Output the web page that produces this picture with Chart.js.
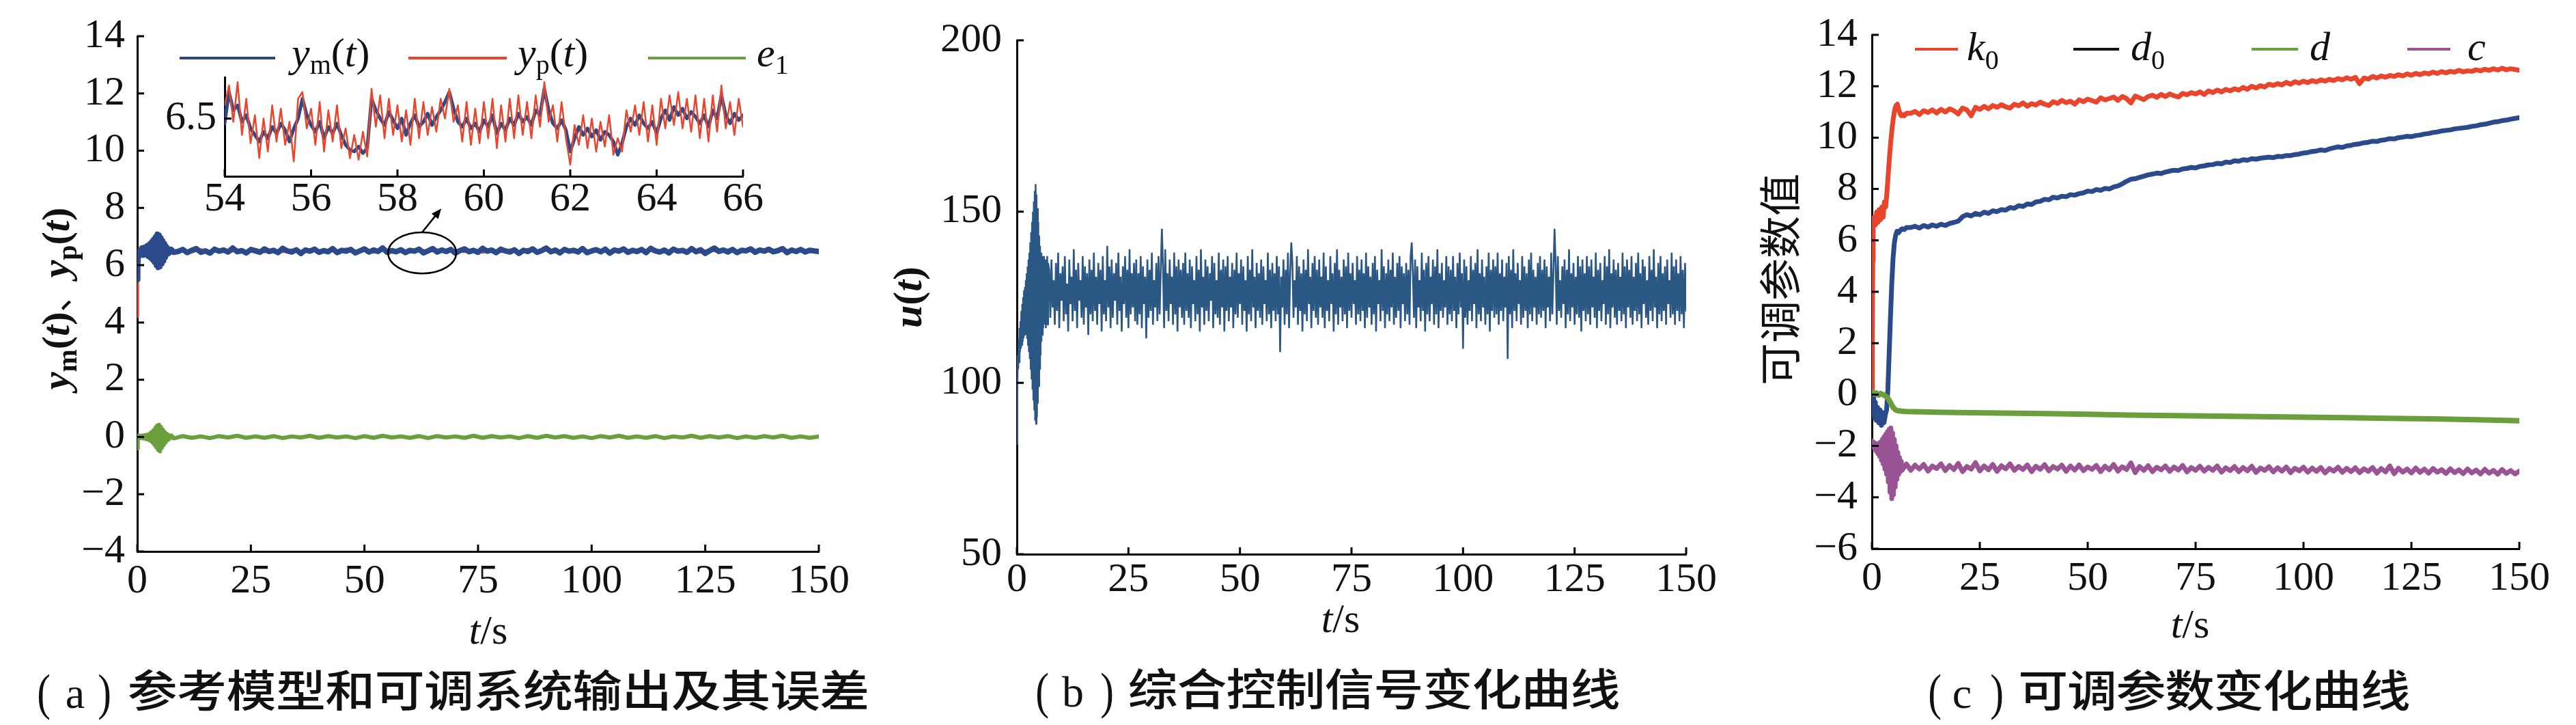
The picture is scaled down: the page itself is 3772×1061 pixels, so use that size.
<!DOCTYPE html>
<html><head><meta charset="utf-8">
<script src="https://cdn.jsdelivr.net/npm/chart.js@4.4.1/dist/chart.umd.min.js"></script>
<style>
html,body{margin:0;padding:0;background:#fff;}
#wrap{position:relative;width:3772px;height:1061px;overflow:hidden;background:#fff;}
canvas{position:absolute;}
</style></head><body>
<div id="wrap">
<canvas id="ca"></canvas><canvas id="cb"></canvas><canvas id="cc"></canvas><canvas id="cin"></canvas>
</div>
<script>
// ===================== DATA =====================
// tick labels
const tTicks = [0, 25, 50, 75, 100, 125, 150];
const aYTicks = [-4, -2, 0, 2, 4, 6, 8, 10, 12, 14];
const bYTicks = [50, 100, 150, 200];
const cYTicks = [-6, -4, -2, 0, 2, 4, 6, 8, 10, 12, 14];
const insetXTicks = [54, 56, 58, 60, 62, 64, 66];
const insetYTicks = [6.5];

// ---- (a) reference model / adjustable system outputs and error ----
const aTrT = [0,0.1,0.2,0.3,0.5,0.7,1.0,1.3,1.6,1.9,2.2,2.5,2.8,3.0,3.2,3.4,3.6,3.8,4.0,4.2,4.4,4.6,4.8,5.0,5.2,5.4,5.6,5.8,6.0,6.2,6.4,6.6,6.8,7.0,7.5,8.0];
const ymTr = [5.5,6.0,6.3,6.42,6.5,6.38,6.6,6.35,6.62,6.36,6.68,6.3,6.75,6.25,6.82,6.18,6.9,6.1,6.98,6.0,7.08,5.92,7.05,5.95,6.95,6.05,6.85,6.15,6.75,6.28,6.65,6.38,6.58,6.42,6.55,6.45];
const ypTr = [4.2,5.6,6.2,6.45,6.55,6.35,6.62,6.33,6.64,6.34,6.7,6.28,6.77,6.23,6.84,6.16,6.92,6.08,7.0,5.98,7.1,5.9,7.06,5.93,6.96,6.03,6.86,6.13,6.76,6.26,6.66,6.36,6.6,6.4,6.56,6.44];
const e1Tr = [-0.4,-0.15,0.05,-0.05,0.03,-0.04,0.05,-0.05,0.06,-0.07,0.08,-0.1,0.12,-0.14,0.17,-0.2,0.24,-0.28,0.32,-0.36,0.4,-0.45,0.42,-0.5,0.35,-0.38,0.26,-0.28,0.18,-0.2,0.12,-0.12,0.08,-0.08,0.05,-0.05];
// steady part of y_m, t = 9..150 s, every 1 s
const ymSt = [6.48,6.55,6.44,6.52,6.58,6.45,6.5,6.42,6.56,6.49,
6.53,6.46,6.6,6.47,6.51,6.43,6.55,6.5,6.45,6.57,
6.48,6.52,6.44,6.59,6.5,6.46,6.54,6.41,6.53,6.49,
6.56,6.45,6.51,6.47,6.58,6.44,6.52,6.49,6.55,6.43,
6.5,6.57,6.46,6.53,6.48,6.6,6.45,6.51,6.47,6.54,
6.44,6.52,6.49,6.56,6.43,6.5,6.58,6.46,6.53,6.48,
6.55,6.42,6.51,6.57,6.47,6.52,6.45,6.59,6.49,6.53,
6.44,6.56,6.5,6.46,6.54,6.41,6.52,6.48,6.57,6.45,
6.51,6.6,6.47,6.53,6.43,6.55,6.49,6.52,6.46,6.58,
6.44,6.5,6.54,6.47,6.56,6.42,6.53,6.49,6.57,6.45,
6.52,6.48,6.55,6.44,6.59,6.5,6.46,6.53,6.43,6.56,
6.49,6.52,6.45,6.58,6.47,6.54,6.41,6.51,6.6,6.48,
6.53,6.46,6.55,6.44,6.52,6.5,6.57,6.45,6.53,6.49,
6.56,6.47,6.51,6.58,6.44,6.53,6.48,6.55,6.46,6.52,
6.5,6.48];
// steady part of y_p, t = 10..150 s, every 2 s
const ypSt = [6.53,6.46,6.55,6.47,6.52,6.45,6.54,6.48,6.56,6.46,
6.52,6.47,6.54,6.45,6.55,6.48,6.53,6.46,6.57,6.47,
6.53,6.45,6.54,6.47,6.52,6.46,6.55,6.48,6.54,6.46,
6.52,6.47,6.55,6.45,6.53,6.47,6.54,6.46,6.56,6.48,
6.52,6.46,6.55,6.47,6.54,6.45,6.53,6.47,6.55,6.46,
6.52,6.48,6.54,6.46,6.56,6.47,6.53,6.45,6.54,6.47,
6.54,6.46,6.55,6.47,6.52,6.46,6.55,6.48,6.53,6.46,
6.52];
// steady part of e1, t = 10..150 s, every 2 s
const e1St = [0.03,-0.03,0.02,-0.04,0.03,-0.02,0.04,-0.03,0.02,-0.03,
0.03,-0.04,0.02,-0.02,0.04,-0.03,0.03,-0.02,0.02,-0.04,
0.03,-0.03,0.04,-0.02,0.02,-0.03,0.03,-0.04,0.03,-0.02,
0.02,-0.03,0.04,-0.03,0.03,-0.02,0.02,-0.04,0.03,-0.03,
0.04,-0.02,0.03,-0.03,0.02,-0.04,0.03,-0.02,0.04,-0.03,
0.02,-0.03,0.03,-0.04,0.02,-0.02,0.04,-0.03,0.03,-0.02,
0.03,-0.04,0.02,-0.03,0.03,-0.02,0.04,-0.03,0.02,-0.03,
0.02];
// inset 54..66 s, every 0.1 s
const ymIn = [6.47,6.66,6.55,6.58,6.48,6.52,6.44,6.40,6.36,6.42,
6.38,6.45,6.41,6.47,6.43,6.36,6.44,6.50,6.62,6.52,
6.46,6.42,6.48,6.38,6.45,6.41,6.47,6.40,6.34,6.31,
6.30,6.33,6.29,6.32,6.62,6.55,6.50,6.46,6.54,6.49,
6.44,6.50,6.40,6.47,6.52,6.45,6.48,6.53,6.46,6.51,
6.55,6.60,6.66,6.56,6.48,6.45,6.50,6.44,6.47,6.42,
6.49,6.45,6.52,6.41,6.47,6.43,6.50,6.46,6.53,6.48,
6.51,6.46,6.55,6.52,6.68,6.55,6.47,6.44,6.49,6.43,
6.30,6.38,6.45,6.40,6.44,6.39,6.43,6.37,6.42,6.40,
6.36,6.28,6.35,6.45,6.50,6.46,6.52,6.47,6.44,6.48,
6.41,6.50,6.55,6.49,6.57,6.52,6.56,6.50,6.54,6.51,
6.47,6.52,6.45,6.55,6.50,6.64,6.52,6.47,6.53,6.49,
6.52];
const ypIn = [6.58,6.70,6.48,6.72,6.40,6.62,6.35,6.52,6.26,6.50,
6.30,6.58,6.36,6.56,6.34,6.48,6.24,6.62,6.66,6.44,
6.56,6.34,6.60,6.30,6.55,6.36,6.58,6.32,6.44,6.26,
6.40,6.25,6.42,6.27,6.68,6.45,6.64,6.38,6.62,6.40,
6.58,6.36,6.55,6.34,6.62,6.38,6.60,6.40,6.57,6.42,
6.62,6.50,6.68,6.48,6.58,6.36,6.60,6.34,6.56,6.35,
6.60,6.38,6.62,6.32,6.58,6.36,6.62,6.38,6.64,6.40,
6.60,6.38,6.64,6.45,6.72,6.48,6.58,6.36,6.60,6.38,
6.22,6.46,6.34,6.52,6.32,6.50,6.30,6.48,6.33,6.52,
6.28,6.38,6.30,6.55,6.42,6.58,6.40,6.60,6.36,6.58,
6.34,6.62,6.44,6.64,6.46,6.66,6.44,6.62,6.42,6.64,
6.38,6.62,6.36,6.64,6.42,6.70,6.44,6.60,6.40,6.62,
6.45];

// ---- (b) control signal u(t) ----
// t = 0..7 s every 0.1 s
const uTr = [82,98,108,104,113,106,116,109,118,110,
121,111,123,112,125,113,127,114,128,115,
130,114,132,113,134,111,136,109,138,107,
141,104,144,101,147,98,150,95,153,92,
156,89,158,88,155,90,151,94,147,99,
143,104,140,108,138,112,137,114,136,116,
137,117,135,118,136,116,134,119,137,117,
135];
// t = 7.25..150 s every 0.25 s
const uSt = [
133,119,136,122,130,117,135,121,138,116, 132,124,134,118,137,120,129,115,136,123, 131,118,139,121,133,116,135,124,130,119, 137,117,134,122,132,114,136,120,133,118,
138,121,131,117,135,123,133,115,137,120, 130,118,140,122,134,116,136,119,132,124, 135,117,138,121,131,115,134,123,137,119, 133,116,139,120,132,122,135,118,136,117,
132,120,137,116,134,123,131,113,136,119, 133,121,138,117,130,122,135,118,137,120, 133,145,134,116,139,121,132,118,136,123, 131,117,138,120,134,115,136,122,133,119,
135,117,138,121,132,119,136,116,134,123, 130,118,137,120,133,115,139,122,131,117, 136,121,134,118,132,124,137,116,135,120, 130,119,138,117,133,122,136,115,134,121,
137,118,131,122,135,116,133,120,138,119, 132,123,136,117,134,121,130,115,137,120, 133,118,139,122,131,116,135,121,132,119, 136,117,134,123,130,118,138,120,133,116,
135,121,132,118,137,120,134,109,131,122, 136,117,133,120,138,116,132,141,135,119, 130,122,137,117,134,121,132,115,136,120, 133,118,139,123,131,116,135,121,137,119,
133,117,136,122,131,119,138,116,134,121, 130,118,137,123,132,115,135,120,139,117, 133,122,131,118,136,120,134,116,138,121, 132,119,135,123,130,117,137,120,133,118,
136,121,132,116,138,119,134,122,131,117, 135,120,137,115,133,123,130,118,139,121, 134,116,132,120,136,118,133,122,138,117, 131,119,135,121,137,116,134,123,132,118,
135,120,133,117,137,141,132,119,136,116, 134,122,130,118,138,121,133,115,135,120, 137,118,131,123,136,117,134,120,139,116, 132,121,135,119,130,122,137,117,134,120,
133,118,137,121,131,116,135,120,138,122, 132,110,136,119,134,117,130,121,137,118, 133,123,135,116,139,120,132,118,136,122, 131,117,134,120,138,115,133,121,136,119,
134,120,138,117,132,121,136,118,131,122, 135,107,137,120,133,116,139,121,132,118, 135,123,130,117,137,119,134,121,132,116, 136,120,138,118,133,122,131,117,135,120,
137,119,133,121,136,116,134,122,131,118, 138,120,132,145,135,117,137,121,130,119, 134,123,136,116,133,120,139,118,132,122, 135,117,131,120,137,119,134,115,136,121,
132,118,137,120,134,117,136,122,131,119, 138,116,133,121,135,118,130,123,137,117, 134,120,139,116,132,122,136,119,133,117, 135,121,131,118,138,120,134,116,136,122,
133,119,137,117,131,121,135,118,138,120, 132,116,136,123,134,119,130,117,137,121, 133,118,139,122,131,116,135,120,137,118, 132,121,134,117,136,123,130,119,138,120,
134,117,136,121,132,118,137,120,133,116,135,121];

// ---- (c) adjustable parameters ----
const kT = [0,0.1,0.2,0.3,0.5,0.8,1.1,1.4,1.7,2.0,2.3,2.6,2.9,3.2,3.5,3.8,4.1,4.4,4.7,5.0,5.3,5.6,5.9,6.2,6.5,6.8,7.1,7.5,8];
const k0Tr = [0.1,2.4,5.2,6.5,6.9,6.6,7.1,6.7,7.2,6.8,7.3,6.9,7.5,7.3,7.9,8.6,9.3,9.9,10.4,10.8,11.1,11.25,11.3,11.1,10.95,10.85,10.9,10.85,10.95];
// t = 9..150 s every 1 s
const k0St = [10.95,11.02,10.9,11.05,10.98,11.08,10.96,11.1,11.0,11.12,
11.05,10.92,11.15,11.08,10.85,11.18,11.1,11.22,11.12,11.25,
11.18,11.28,11.2,11.15,11.3,11.24,11.35,11.22,11.32,11.27,
11.38,11.3,11.25,11.4,11.33,11.45,11.36,11.42,11.3,11.47,
11.4,11.5,11.44,11.38,11.55,11.47,11.52,11.58,11.45,11.6,
11.52,11.35,11.62,11.55,11.48,11.6,11.65,11.57,11.68,11.6,
11.7,11.63,11.58,11.72,11.67,11.75,11.7,11.78,11.68,11.82,
11.75,11.85,11.78,11.88,11.82,11.9,11.85,11.95,11.88,12.0,
11.93,12.02,11.97,12.08,12.03,12.1,12.05,12.15,12.08,12.18,
12.12,12.2,12.14,12.22,12.17,12.25,12.2,12.27,12.22,12.3,
12.25,12.33,12.27,12.35,12.1,12.32,12.28,12.38,12.32,12.4,
12.35,12.42,12.38,12.45,12.4,12.48,12.43,12.5,12.45,12.52,
12.48,12.55,12.5,12.57,12.52,12.58,12.55,12.62,12.56,12.6,
12.58,12.64,12.6,12.66,12.62,12.68,12.63,12.7,12.64,12.68,
12.65,12.62];
const dT = [0,0.2,0.4,0.6,0.8,1.0,1.3,1.6,1.9,2.2,2.5,2.8,3.1,3.4,3.7,4.0,4.3,4.6,4.9,5.2,5.5,5.8,6.2,6.6,7.0,7.5,8];
const d0Tr = [0,-0.7,-0.1,-0.9,-0.3,-1.0,-0.5,-1.1,-0.6,-1.2,-0.7,-1.1,-0.8,-0.6,0.2,1.6,3.0,4.3,5.3,5.9,6.2,6.35,6.3,6.4,6.45,6.42,6.5];
// t = 9..150 s every 1 s
const d0St = [6.5,6.55,6.48,6.58,6.52,6.6,6.55,6.63,6.58,6.66,
6.7,6.75,6.92,7.0,6.95,7.05,7.0,7.1,7.05,7.15,
7.12,7.2,7.18,7.28,7.25,7.35,7.32,7.42,7.4,7.5,
7.52,7.6,7.58,7.68,7.65,7.72,7.7,7.78,7.76,7.82,
7.85,7.92,7.9,7.98,7.95,8.02,8.0,8.08,8.12,8.2,
8.3,8.38,8.4,8.45,8.5,8.55,8.58,8.62,8.6,8.66,
8.7,8.73,8.72,8.78,8.8,8.84,8.82,8.88,8.9,8.94,
8.95,9.0,8.98,9.05,9.03,9.1,9.08,9.14,9.12,9.18,
9.16,9.2,9.22,9.24,9.22,9.27,9.26,9.3,9.3,9.34,
9.36,9.4,9.42,9.46,9.48,9.52,9.5,9.56,9.6,9.64,
9.62,9.68,9.7,9.74,9.76,9.8,9.82,9.86,9.85,9.9,
9.92,9.96,9.95,10.0,10.02,10.05,10.04,10.08,10.1,10.14,
10.16,10.2,10.22,10.26,10.28,10.3,10.34,10.36,10.38,10.4,
10.44,10.46,10.5,10.52,10.56,10.6,10.62,10.66,10.68,10.72,
10.75,10.78];
const gT = [0,0.5,1,1.5,2,2.5,3,3.5,4,4.5,5,5.5,6,7,8,10,15,20,30,40,50,60,70,80,90,100,110,120,130,140,150];
const gV = [0.12,0.02,0.06,-0.02,0.04,0.0,-0.04,-0.1,-0.22,-0.38,-0.52,-0.6,-0.63,-0.65,-0.66,-0.67,-0.69,-0.7,-0.72,-0.74,-0.77,-0.8,-0.82,-0.84,-0.86,-0.88,-0.9,-0.93,-0.95,-0.98,-1.02];
// t = 0..7 s every 0.2 s
const cTr = [-1.8,-1.95,-1.85,-2.1,-1.9,-2.2,-1.95,-2.3,-1.9,-2.4,-1.85,-2.55,-1.75,-2.7,-1.65,-2.9,-1.55,-3.1,-1.45,-3.4,-1.35,-3.8,-1.3,-4.05,-1.5,-3.9,-1.75,-3.6,-2.0,-3.3,-2.25,-3.1,-2.45,-3.0,-2.6,-2.95];
// t = 8..150 s every 1 s
const cSt = [-2.7,-2.95,-2.75,-2.9,-2.72,-2.98,-2.78,-2.88,-2.7,-2.96,
-2.76,-2.92,-2.68,-3.0,-2.8,-2.9,-2.65,-2.97,-2.78,-2.93,
-2.72,-2.99,-2.77,-2.89,-2.7,-2.95,-2.8,-2.92,-2.74,-3.0,
-2.79,-2.91,-2.73,-2.97,-2.8,-2.9,-2.75,-2.99,-2.78,-2.94,
-2.74,-2.96,-2.82,-2.91,-2.76,-3.0,-2.79,-2.93,-2.72,-2.98,
-2.81,-2.92,-2.66,-3.04,-2.8,-2.95,-2.77,-3.0,-2.83,-2.93,
-2.78,-2.99,-2.82,-2.94,-2.76,-3.01,-2.84,-2.95,-2.79,-2.98,
-2.83,-2.95,-2.78,-3.02,-2.85,-2.96,-2.8,-3.0,-2.84,-2.97,
-2.79,-3.03,-2.86,-2.95,-2.81,-3.01,-2.85,-2.98,-2.82,-3.04,
-2.87,-2.97,-2.83,-3.02,-2.86,-2.99,-2.84,-3.05,-2.88,-2.98,
-2.83,-3.03,-2.87,-3.0,-2.85,-3.04,-2.89,-2.99,-2.84,-3.06,
-2.88,-3.01,-2.78,-3.08,-2.87,-3.02,-2.9,-3.05,-2.86,-3.03,
-2.9,-3.06,-2.88,-3.02,-2.92,-3.07,-2.89,-3.04,-2.93,-3.08,
-2.9,-3.05,-2.94,-3.09,-2.91,-3.06,-2.95,-3.1,-2.92,-3.07,
-2.96,-3.09,-2.98];

// annotation (zoom mark) in data units of panel (a)
const markCenter = [62.7, 6.43], markRadius = [7.5, 0.72];
const arrowFrom = [62.7, 7.15], arrowTo = [66.9, 7.98];

// ===================== HELPERS =====================
const pts = (ts, vs) => ts.map((t, i) => ({x: t, y: vs[i]}));
const grid = (t0, dt, vs) => vs.map((v, i) => ({x: Math.round((t0 + i * dt) * 1000) / 1000, y: v}));

const BLUE = '#2b4a8b', RED = '#e8452c', GREEN = '#6b9e3c', PURPLE = '#9a5394', STEEL = '#2a5784';
const SERIF = '"Liberation Serif","Times New Roman",serif';
const CJK = '"Noto Sans CJK SC",sans-serif';
const TICKFONT = {family: SERIF, size: 60, lineHeight: 1};
const fmt = v => (v < 0 ? '\u2212' + (-v) : String(v));

function rich(ctx, segs, x, y, align, rot) {
  ctx.save();
  ctx.translate(x, y);
  if (rot) ctx.rotate(rot);
  ctx.textBaseline = 'alphabetic';
  ctx.textAlign = 'left';
  let w = 0;
  for (const s of segs) { ctx.font = s.f; w += ctx.measureText(s.t).width; }
  let cx = align === 'center' ? -w / 2 : (align === 'right' ? -w : 0);
  for (const s of segs) {
    ctx.font = s.f; ctx.fillStyle = '#111';
    ctx.fillText(s.t, cx, s.dy || 0);
    cx += ctx.measureText(s.t).width;
  }
  ctx.restore();
}
function caption(ctx, letter, parL, letX, parR, chars, x0, adv, base) {
  ctx.save();
  ctx.fillStyle = '#111';
  ctx.textBaseline = 'alphabetic';
  ctx.textAlign = 'center';
  ctx.font = '74px ' + SERIF;
  ctx.save(); ctx.translate(parL, base + 2); ctx.scale(0.8, 1); ctx.fillText('(', 0, 0); ctx.restore();
  ctx.save(); ctx.translate(parR, base + 2); ctx.scale(0.8, 1); ctx.fillText(')', 0, 0); ctx.restore();
  ctx.font = '64px ' + SERIF;
  ctx.fillText(letter, letX, base);
  ctx.font = '500 64px ' + CJK;
  [...chars].forEach((ch, i) => {
    ctx.save(); ctx.translate(x0 + adv / 2 + i * adv, base - 2); ctx.scale(1.14, 1);
    ctx.fillText(ch, 0, 0); ctx.restore();
  });
  ctx.restore();
}
function innerTicks(c, len) {
  const ctx = c.ctx, xs = c.scales.x, ys = c.scales.y, a = c.chartArea;
  ctx.save(); ctx.strokeStyle = '#000'; ctx.lineWidth = 3; ctx.beginPath();
  xs.ticks.forEach(t => { const p = xs.getPixelForValue(t.value); ctx.moveTo(p, a.bottom); ctx.lineTo(p, a.bottom - len); });
  ys.ticks.forEach(t => { const p = ys.getPixelForValue(t.value); ctx.moveTo(a.left, p); ctx.lineTo(a.left + len, p); });
  ctx.stroke(); ctx.restore();
}
function legendLine(ctx, x1, x2, y, color) {
  ctx.save(); ctx.strokeStyle = color; ctx.lineWidth = 4; ctx.beginPath();
  ctx.moveTo(x1, y); ctx.lineTo(x2, y); ctx.stroke(); ctx.restore();
}

function makeChart(id, box, area, xCfg, yCfg, datasets, extra) {
  const cv = document.getElementById(id);
  cv.width = box.w; cv.height = box.h;
  Object.assign(cv.style, {left: box.x + 'px', top: box.y + 'px', width: box.w + 'px', height: box.h + 'px'});
  const yW = area.L - box.x, xH = box.y + box.h - area.B;
  const axis = (cfg, isX) => ({
    type: 'linear', min: cfg.min, max: cfg.max,
    grid: {display: false, drawTicks: false},
    border: {display: true, color: '#000', width: 3},
    ticks: {autoSkip: false, maxRotation: 0, minRotation: 0, padding: cfg.pad, font: TICKFONT, color: '#111', callback: fmt},
    afterBuildTicks: s => { s.ticks = cfg.ticks.map(v => ({value: v})); },
    afterFit: s => { if (isX) s.height = xH; else s.width = yW; }
  });
  return new Chart(cv.getContext('2d'), {
    type: 'line',
    data: {datasets},
    options: {
      responsive: false, animation: false, events: [],
      layout: {padding: {top: area.T - box.y, right: box.x + box.w - area.R, left: 0, bottom: 0}},
      plugins: {legend: {display: false}, tooltip: {enabled: false}, title: {display: false}},
      elements: {point: {radius: 0}, line: {tension: 0}},
      scales: {x: axis(xCfg, true), y: axis(yCfg, false)}
    },
    plugins: [{id: 'deco', afterDraw: c => {
      innerTicks(c, 10);
      const ctx = c.ctx; ctx.save(); ctx.translate(-box.x, -box.y);
      extra(c, ctx); ctx.restore();
    }}]
  });
}
const ds = (data, color, w, order, join) => ({data, borderColor: color, borderWidth: w, order, fill: false, pointRadius: 0, borderJoinStyle: join || 'round', borderCapStyle: 'round'});

const IT = '60px ' + SERIF, ITI = 'italic 60px ' + SERIF, SUB = '40px ' + SERIF;

// ===================== PANEL (a) =====================
makeChart('ca', {x: 0, y: 0, w: 1290, h: 1061}, {L: 201, R: 1199, T: 53, B: 807},
  {min: 0, max: 150, ticks: tTicks, pad: 14}, {min: -4, max: 14, ticks: aYTicks, pad: 18},
  [
    ds(pts(aTrT, ymTr).concat(grid(9, 1, ymSt)), BLUE, 8, 1),
    ds(pts(aTrT, ypTr).concat(grid(10, 2, ypSt)), RED, 4, 2),
    ds(pts(aTrT, e1Tr).concat(grid(10, 2, e1St)), GREEN, 6, 0)
  ],
  (c, ctx) => {
    // zoom mark ellipse + arrow
    const xs = c.scales.x, ys = c.scales.y;
    const cx = xs.getPixelForValue(markCenter[0]), cy = ys.getPixelForValue(markCenter[1]);
    const rx = xs.getPixelForValue(markCenter[0] + markRadius[0]) - cx;
    const ry = cy - ys.getPixelForValue(markCenter[1] + markRadius[1]);
    ctx.save(); ctx.strokeStyle = '#000'; ctx.lineWidth = 2.5;
    ctx.beginPath(); ctx.ellipse(cx, cy, rx, ry, 0, 0, Math.PI * 2); ctx.stroke();
    const x1 = xs.getPixelForValue(arrowFrom[0]), y1 = ys.getPixelForValue(arrowFrom[1]);
    const x2 = xs.getPixelForValue(arrowTo[0]), y2 = ys.getPixelForValue(arrowTo[1]);
    const ang = Math.atan2(y2 - y1, x2 - x1), hl = 16;
    ctx.beginPath(); ctx.moveTo(x1, y1); ctx.lineTo(x2 - Math.cos(ang) * hl * 0.8, y2 - Math.sin(ang) * hl * 0.8); ctx.stroke();
    ctx.fillStyle = '#000'; ctx.beginPath(); ctx.moveTo(x2, y2);
    ctx.lineTo(x2 - hl * Math.cos(ang - 0.4), y2 - hl * Math.sin(ang - 0.4));
    ctx.lineTo(x2 - hl * Math.cos(ang + 0.4), y2 - hl * Math.sin(ang + 0.4)); ctx.closePath(); ctx.fill();
    ctx.restore();
    // legend
    legendLine(ctx, 263, 403, 85, BLUE);
    legendLine(ctx, 598, 742, 85, RED);
    legendLine(ctx, 949, 1092, 85, GREEN);
    rich(ctx, [{t: 'y', f: ITI}, {t: 'm', f: SUB, dy: 11}, {t: '(', f: IT}, {t: 't', f: ITI}, {t: ')', f: IT}], 427, 97, 'left');
    rich(ctx, [{t: 'y', f: ITI}, {t: 'p', f: SUB, dy: 11}, {t: '(', f: IT}, {t: 't', f: ITI}, {t: ')', f: IT}], 758, 97, 'left');
    rich(ctx, [{t: 'e', f: ITI}, {t: '1', f: SUB, dy: 11}], 1108, 97, 'left');
    // y title
    const BI = 'italic bold 58px ' + SERIF, BU = 'bold 58px ' + SERIF, BS = 'bold 40px ' + SERIF;
    rich(ctx, [{t: 'y', f: BI}, {t: 'm', f: BS, dy: 11}, {t: '(', f: BU}, {t: 't', f: BI}, {t: ')', f: BU},
               {t: '、', f: '50px ' + CJK},
               {t: 'y', f: BI}, {t: 'p', f: BS, dy: 11}, {t: '(', f: BU}, {t: 't', f: BI}, {t: ')', f: BU}],
         101, 437, 'center', -Math.PI / 2);
    // x title
    rich(ctx, [{t: 't', f: ITI}, {t: '/s', f: IT}], 715, 942, 'center');
    // caption
    caption(ctx, 'a', 64, 110, 153, '参考模型和可调系统输出及其误差', 187, 72.4, 1036);
  });

// inset (zoom of 54–66 s)
makeChart('cin', {x: 200, y: 60, w: 960, h: 290}, {L: 329, R: 1088, T: 113, B: 258},
  {min: 54, max: 66, ticks: insetXTicks, pad: 4}, {min: 6.15, max: 6.75, ticks: insetYTicks, pad: 12},
  [
    ds(grid(54, 0.1, ymIn), BLUE, 5, 1),
    ds(grid(54, 0.1, ypIn), RED, 2.5, 0)
  ],
  () => {});

// ===================== PANEL (b) =====================
makeChart('cb', {x: 1290, y: 0, w: 1260, h: 1061}, {L: 1489, R: 2469, T: 59, B: 811},
  {min: 0, max: 150, ticks: tTicks, pad: 8}, {min: 50, max: 200, ticks: bYTicks, pad: 22},
  [ds(grid(0, 0.1, uTr).concat(grid(7.25, 0.25, uSt)), STEEL, 2.6, 0, 'bevel')],
  (c, ctx) => {
    rich(ctx, [{t: 'u', f: 'italic bold 60px ' + SERIF}, {t: '(', f: 'bold 60px ' + SERIF}, {t: 't', f: 'italic bold 60px ' + SERIF}, {t: ')', f: 'bold 60px ' + SERIF}],
         1349, 435, 'center', -Math.PI / 2);
    rich(ctx, [{t: 't', f: ITI}, {t: '/s', f: IT}], 1963, 925, 'center');
    caption(ctx, 'b', 1526, 1571, 1621, '综合控制信号变化曲线', 1652, 72, 1034);
  });

// ===================== PANEL (c) =====================
makeChart('cc', {x: 2550, y: 0, w: 1222, h: 1061}, {L: 2741, R: 3689, T: 50, B: 803},
  {min: 0, max: 150, ticks: tTicks, pad: 14}, {min: -6, max: 14, ticks: cYTicks, pad: 21},
  [
    ds(pts(kT, k0Tr).concat(grid(9, 1, k0St)), RED, 7, 2),
    ds(pts(dT, d0Tr).concat(grid(9, 1, d0St)), BLUE, 7, 3),
    ds(pts(gT, gV), GREEN, 8, 0),
    ds(grid(0, 0.2, cTr).concat(grid(8, 1, cSt)), PURPLE, 7, 1)
  ],
  (c, ctx) => {
    legendLine(ctx, 2804, 2867, 72, RED);
    legendLine(ctx, 3036, 3103, 72, '#111');
    legendLine(ctx, 3297, 3365, 72, GREEN);
    legendLine(ctx, 3525, 3588, 72, PURPLE);
    rich(ctx, [{t: 'k', f: ITI}, {t: '0', f: SUB, dy: 13}], 2880, 88, 'left');
    rich(ctx, [{t: 'd', f: ITI}, {t: '0', f: SUB, dy: 13}], 3120, 88, 'left');
    rich(ctx, [{t: 'd', f: ITI}], 3382, 88, 'left');
    rich(ctx, [{t: 'c', f: ITI}], 3613, 88, 'left');
    rich(ctx, [{t: '可调参数值', f: '62px ' + CJK}], 2630, 409, 'center', -Math.PI / 2);
    rich(ctx, [{t: 't', f: ITI}, {t: '/s', f: IT}], 3207, 933, 'center');
    caption(ctx, 'c', 2833, 2873, 2924, '可调参数变化曲线', 2956, 71.6, 1036);
  });
</script>
</body></html>
